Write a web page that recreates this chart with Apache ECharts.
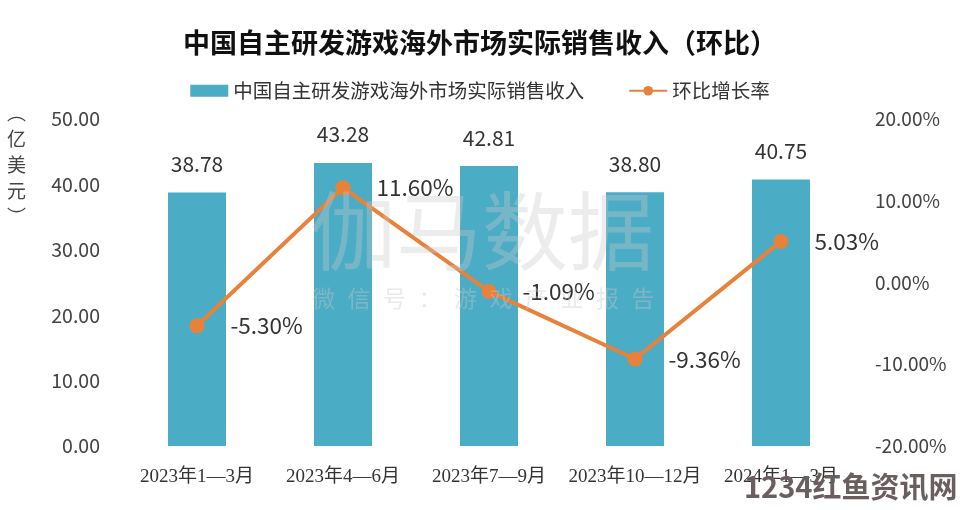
<!DOCTYPE html>
<html><head><meta charset="utf-8">
<script src="https://cdn.jsdelivr.net/npm/echarts@6/dist/echarts.min.js"></script>
<style>html,body{margin:0;padding:0;background:#fff}#c{width:960px;height:510px}</style>
</head><body><div id="c"></div>
<script>
const categories = ['2023年1—3月','2023年4—6月','2023年7—9月','2023年10—12月','2024年1—3月'];
const revenue = [38.78, 43.28, 42.81, 38.80, 40.75];
const growth = [-5.30, 11.60, -1.09, -9.36, 5.03];
const barName = '中国自主研发游戏海外市场实际销售收入';
const lineName = '环比增长率';
const sansFont = "'Noto Sans CJK SC','Noto Sans',sans-serif";
const wmChars = '微信号：游戏产业报告'.split('');
const chart = echarts.init(document.getElementById('c'));
const graphics = [
  {type:'text',left:7,top:100,style:{text:'︵\n亿\n美\n元\n︶',lineHeight:26,fill:'#444',font:"19px 'Noto Sans CJK SC'"}},
  {type:'text',z:100,left:310,top:188,style:{text:'伽马数据',font:"86px 'Noto Sans CJK SC'",fill:'rgba(200,200,200,0.35)'}}
];
wmChars.forEach((ch,i)=>graphics.push({type:'text',z:100,left:312+i*35.5,top:287,style:{text:ch,font:"23px 'Noto Sans CJK SC'",fill:'rgba(200,200,200,0.4)'}}));
graphics.push({type:'text',z:100,left:744,top:472,style:{text:'1234红鱼资讯网',font:"bold 29px 'Noto Sans CJK SC'",fill:'#6a5e5e'}});
chart.setOption({
  backgroundColor:'#fff',
  animation:false,
  title:{text:'中国自主研发游戏海外市场实际销售收入（环比）',left:'center',top:24,
    textStyle:{fontSize:27,fontWeight:'bold',color:'#111',fontFamily:sansFont}},
  legend:{top:76,left:'center',itemGap:44,itemWidth:38,itemHeight:12,
    textStyle:{fontSize:19.5,color:'#333',fontFamily:sansFont},
    data:[{name:barName,icon:'rect'},{name:lineName}]},
  grid:{left:124,right:106,top:119,bottom:64},
  xAxis:{type:'category',data:categories,
    axisLine:{show:false},axisTick:{show:false},
    axisLabel:{interval:0,fontSize:19,color:'#333',margin:22,fontFamily:"'Liberation Serif','Noto Sans CJK SC',serif"}},
  yAxis:[
    {type:'value',min:0,max:50,interval:10,splitLine:{show:false},axisLine:{show:false},axisTick:{show:false},
     axisLabel:{fontSize:19.5,color:'#444',margin:24,fontFamily:sansFont,formatter:v=>v.toFixed(2)}},
    {type:'value',min:-20,max:20,interval:10,splitLine:{show:false},axisLine:{show:false},axisTick:{show:false},
     axisLabel:{fontSize:19,color:'#444',margin:21,fontFamily:sansFont,formatter:v=>v.toFixed(2)+'%'}}
  ],
  series:[
    {name:barName,type:'bar',data:revenue,barWidth:58,
     itemStyle:{color:'#4BACC6'},
     label:{show:true,position:'top',distance:18,fontSize:21,color:'#333',fontFamily:sansFont,formatter:p=>p.value.toFixed(2)}},
    {name:lineName,type:'line',yAxisIndex:1,data:growth,symbol:'circle',symbolSize:15,
     lineStyle:{color:'#E8823A',width:4},itemStyle:{color:'#E8823A'},
     label:{show:true,position:'right',distance:26,fontSize:22.5,color:'#333',fontFamily:sansFont,formatter:p=>p.value.toFixed(2)+'%'}}
  ],
  graphic:graphics
});
</script></body></html>
